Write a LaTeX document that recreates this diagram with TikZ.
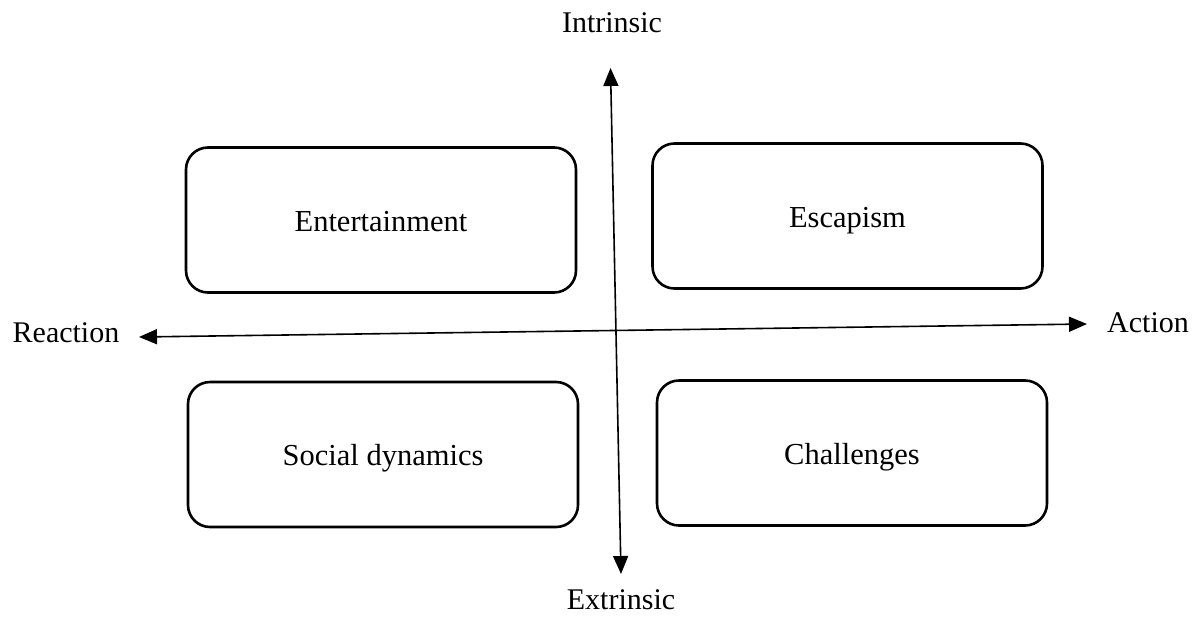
\documentclass[tikz,border=0pt]{standalone}
\usepackage{fontspec}
\setmainfont{Liberation Serif}
\usetikzlibrary{arrows.meta}
\tikzset{
  quad/.style={draw=black, line width=2.6pt, rounded corners=22pt, minimum width=390pt, minimum height=145pt, inner sep=0pt, text height=22pt, text depth=0pt, font=\fontsize{30.5}{34}\selectfont},
  axis/.style={draw=black, line width=1.6pt, {Triangle[length=18pt,width=15pt]}-{Triangle[length=18pt,width=15pt]}},
  axlabel/.style={inner sep=0pt, font=\fontsize{30}{34}\selectfont}
}
\begin{document}
\begin{tikzpicture}[x=1pt,y=-1pt]
\useasboundingbox[fill=white] (0,0) rectangle (1199,616);
\node[quad] (ent) at (381,220) {Entertainment};
\node[quad] (esc) at (847.5,216) {Escapism};
\node[quad] (soc) at (383,454.5) {Social dynamics};
\node[quad] (cha) at (852,453) {Challenges};
\node[axlabel] (intr) at (612,23) {Intrinsic};
\node[axlabel] (extr) at (621,600) {Extrinsic};
\node[axlabel] (reac) at (66,333) {Reaction};
\node[axlabel] (act) at (1148,323) {Action};
\coordinate (top) at (610.5,68);
\coordinate (bot) at (621,574);
\coordinate (lft) at (139,337);
\coordinate (rgt) at (1087,324);
\draw[axis] (bot) -- (top);
\draw[axis] (lft) -- (rgt);
\end{tikzpicture}
\end{document}
